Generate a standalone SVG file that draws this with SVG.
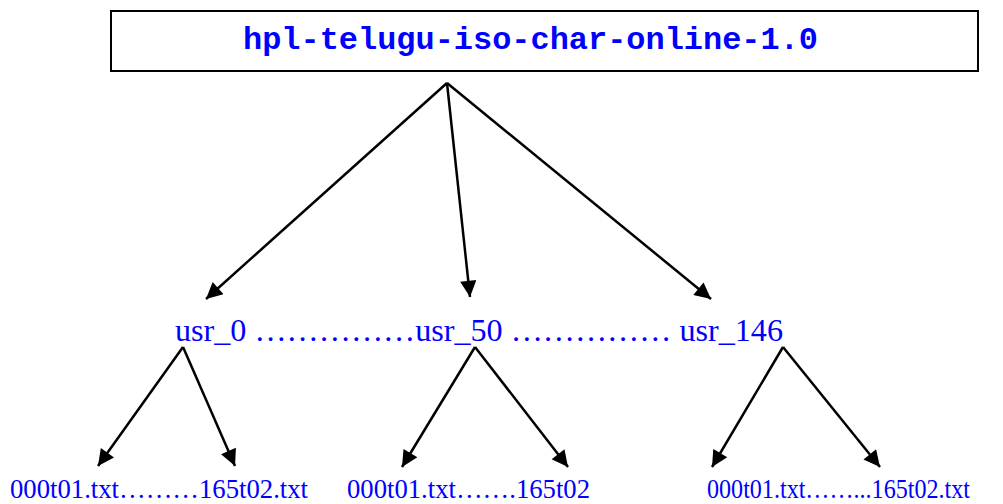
<svg xmlns="http://www.w3.org/2000/svg" width="1003" height="504" viewBox="0 0 1003 504">
<style>
.edge{stroke:#000;stroke-width:2.5;fill:none;marker-end:url(#ah)}
.lbl{font-family:'Liberation Serif','Times New Roman',serif;fill:#0000ff}
</style>
<defs>
<marker id="ah" viewBox="0 0 10 10" refX="10" refY="5" markerWidth="7.5" markerHeight="6.5" markerUnits="strokeWidth" orient="auto">
<path d="M0,0 L10,5 L0,10 z" fill="#000"/>
</marker>
</defs>
<rect width="1003" height="504" fill="#fff"/>
<g id="root">
<rect x="111" y="11" width="867" height="60" fill="#fff" stroke="#000" stroke-width="2"/>
<text x="243" y="49" textLength="575" lengthAdjust="spacingAndGlyphs" font-family="'Liberation Mono','Courier New',monospace" font-weight="bold" font-size="31" fill="#0000ff">hpl-telugu-iso-char-online-1.0</text>
</g>
<g id="users">
<text class="lbl" x="175" y="341" font-size="31" textLength="608" lengthAdjust="spacingAndGlyphs">usr_0 ……………usr_50 …………… usr_146</text>
</g>
<g id="files0"><text class="lbl" x="10" y="498" font-size="27" textLength="298" lengthAdjust="spacingAndGlyphs">000t01.txt………165t02.txt</text></g>
<g id="files50"><text class="lbl" x="347" y="498" font-size="27" textLength="243" lengthAdjust="spacingAndGlyphs">000t01.txt…….165t02</text></g>
<g id="files146"><text class="lbl" x="707" y="498" font-size="27" textLength="263" lengthAdjust="spacingAndGlyphs">000t01.txt……...165t02.txt</text></g>
<g id="connectors">
<line class="edge" x1="447" y1="83" x2="206" y2="299"/>
<line class="edge" x1="447" y1="83" x2="470" y2="297"/>
<line class="edge" x1="447" y1="83" x2="711" y2="299"/>
<line class="edge" x1="183" y1="347" x2="98" y2="466"/>
<line class="edge" x1="183" y1="347" x2="235" y2="466"/>
<line class="edge" x1="475" y1="347" x2="402" y2="467"/>
<line class="edge" x1="475" y1="347" x2="568" y2="467"/>
<line class="edge" x1="783" y1="347" x2="712" y2="467"/>
<line class="edge" x1="783" y1="347" x2="880" y2="467"/>
</g>
</svg>
